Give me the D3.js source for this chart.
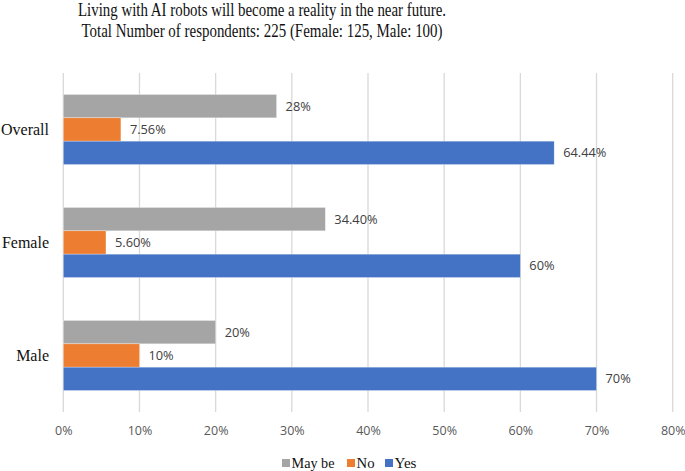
<!DOCTYPE html>
<html><head><meta charset="utf-8">
<script src="https://cdn.jsdelivr.net/npm/d3@7"></script>
<style>body{margin:0;background:#fff}svg{display:block}</style>
</head><body>
<svg id="c" width="685" height="471"></svg>
<script>
const categories = ["Overall", "Female", "Male"];
const seriesNames = ["May be", "No", "Yes"];
const maybeValues = [28, 34.4, 20];
const noValues = [7.56, 5.6, 10];
const yesValues = [64.44, 60, 70];
const maybeLabels = ["28%", "34.40%", "20%"];
const noLabels = ["7.56%", "5.60%", "10%"];
const yesLabels = ["64.44%", "60%", "70%"];
const xTicks = [0, 10, 20, 30, 40, 50, 60, 70, 80];
const titleLines = ["Living with AI robots will become a reality in the near future.",
                    "Total Number of respondents: 225 (Female: 125, Male: 100)"];

(function () {
const colors = {"May be": "#a5a5a5", "No": "#ed7d31", "Yes": "#4472c4"};
const seriesVals = {"May be": maybeValues, "No": noValues, "Yes": yesValues};
const seriesLbls = {"May be": maybeLabels, "No": noLabels, "Yes": yesLabels};

const svg = d3.select("#c");
const pLeft = 63.3, pRight = 672.7, pTop = 73, pBottom = 412;

const x = d3.scaleLinear().domain([0, 80]).range([pLeft, pRight]);
const y = d3.scaleBand().domain(categories).range([pTop, pBottom]).paddingInner(0.38).paddingOuter(0.19);
const ySub = d3.scaleBand().domain(seriesNames).range([0, y.bandwidth()]);

// title (condensed like the reference)
const titleWidths = [368, 361];
svg.append("g").selectAll("text").data(titleLines).join("text")
  .attr("x", 262).attr("y", (d, i) => 15.7 + i * 21.6)
  .attr("text-anchor", "middle")
  .attr("textLength", (d, i) => titleWidths[i])
  .attr("lengthAdjust", "spacingAndGlyphs")
  .style("font-family", "'Liberation Serif', serif").style("font-size", "18.5px").style("fill", "#111")
  .text(d => d);

// gridlines
svg.append("g").selectAll("line").data(xTicks).join("line")
  .attr("x1", d => x(d)).attr("x2", d => x(d))
  .attr("y1", pTop).attr("y2", pBottom)
  .attr("stroke", "#d9d9d9").attr("stroke-width", 1.3);

// x tick labels via axis
const xAxis = d3.axisBottom(x).tickValues(xTicks).tickFormat(d => d + "%").tickSize(0).tickPadding(0);
const gx = svg.append("g").attr("transform", `translate(0,${pBottom + 14})`).call(xAxis);
gx.select(".domain").remove();
gx.selectAll("text").style("font-family", "'Open Sans', sans-serif").style("font-size", "12.5px").style("fill", "#595959");

// bars
const groups = svg.append("g").selectAll("g").data(categories).join("g")
  .attr("transform", d => `translate(0,${y(d)})`);
seriesNames.forEach(s => {
  groups.append("rect")
    .attr("x", x(0))
    .attr("y", ySub(s))
    .attr("width", (d, i) => x(seriesVals[s][i]) - x(0))
    .attr("height", ySub.bandwidth())
    .attr("fill", colors[s])
    .attr("stroke", "#ffffff").attr("stroke-opacity", 0.5).attr("stroke-width", 0.6);
  groups.append("text")
    .attr("x", (d, i) => x(seriesVals[s][i]) + 9)
    .attr("y", ySub(s) + ySub.bandwidth() / 2)
    .attr("dy", "0.35em")
    .style("font-family", "'Open Sans', sans-serif").style("font-size", "12.8px").style("fill", "#404040")
    .text((d, i) => seriesLbls[s][i]);
});

// y axis labels
const yAxis = d3.axisLeft(y).tickSize(0).tickPadding(0);
const gy = svg.append("g").attr("transform", `translate(49,0)`).call(yAxis);
gy.select(".domain").remove();
gy.selectAll("text").style("font-family", "'Liberation Serif', serif").style("font-size", "16px").style("fill", "#111");

// legend
const legendX = [282, 347, 385];
const legendW = [43, 18, 22];
const lg = svg.append("g").selectAll("g").data(seriesNames).join("g")
  .attr("transform", (d, i) => `translate(${legendX[i]},463)`);
lg.append("rect").attr("x", 0).attr("y", -4).attr("width", 8).attr("height", 8).attr("fill", d => colors[d]);
lg.append("text").attr("x", 9.5).attr("y", 0).attr("dy", "0.35em")
  .attr("textLength", (d, i) => legendW[i])
  .attr("lengthAdjust", "spacingAndGlyphs")
  .style("font-family", "'Liberation Serif', serif").style("font-size", "15.5px").style("fill", "#111")
  .text(d => d);
})();
</script>
</body></html>
